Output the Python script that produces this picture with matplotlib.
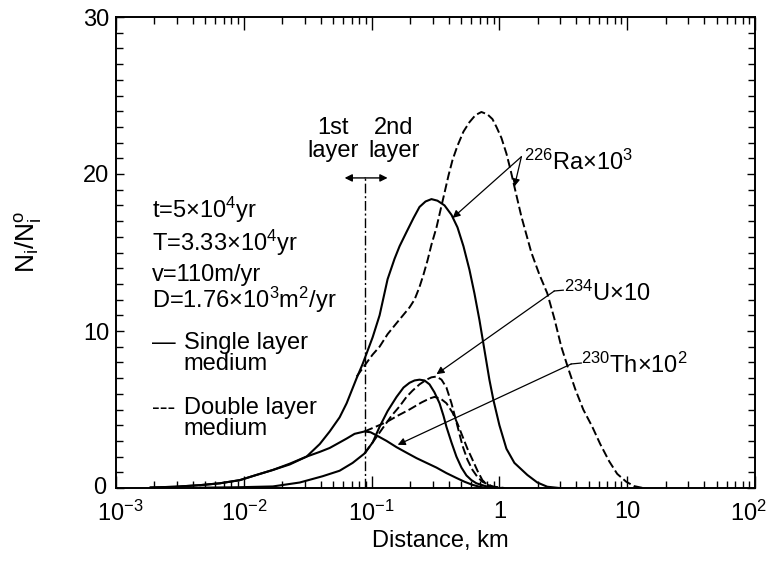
import matplotlib
matplotlib.use("Agg")
import matplotlib.pyplot as plt
from matplotlib.ticker import FixedLocator, LogLocator, MultipleLocator, NullFormatter
from matplotlib.transforms import ScaledTranslation

plt.rcParams['font.family'] = ['Liberation Sans', 'DejaVu Sans']
plt.rcParams['mathtext.fontset'] = 'custom'
plt.rcParams['mathtext.rm'] = 'Liberation Sans'
plt.rcParams['mathtext.it'] = 'Liberation Sans:italic'
plt.rcParams['mathtext.default'] = 'regular'

# Distance (km) and normalised concentration N_i/N_i^o for each nuclide
ra_single_x = [0.00185, 0.00289, 0.00453, 0.0065, 0.0093, 0.0122, 0.0169, 0.0229, 0.031,
               0.0393, 0.047, 0.0562, 0.0638, 0.0764, 0.0851, 0.1019, 0.1155, 0.1334,
               0.1512, 0.1655, 0.1875, 0.2129, 0.237, 0.2642, 0.294, 0.3278, 0.372,
               0.4217, 0.470, 0.5233, 0.583, 0.6376, 0.698, 0.7635, 0.835, 0.898, 1.0,
               1.135, 1.31, 1.655, 1.981, 2.37, 2.943]
ra_single_y = [0.03, 0.08, 0.18, 0.3, 0.5, 0.8, 1.15, 1.5, 2.0, 2.8, 3.6, 4.5, 5.4, 7.0,
               7.9, 9.6, 11.0, 13.3, 14.6, 15.4, 16.3, 17.2, 17.9, 18.25, 18.4, 18.3, 18.0,
               17.4, 16.6, 15.4, 13.9, 12.4, 10.7, 8.8, 6.9, 5.6, 4.0, 2.5, 1.6, 0.83,
               0.35, 0.08, 0.0]

ra_double_x = [0.0764, 0.0881, 0.1019, 0.1155, 0.1334, 0.1567, 0.198, 0.2168, 0.237,
               0.2548, 0.274, 0.294, 0.322, 0.3459, 0.372, 0.3995, 0.430, 0.470, 0.5233,
               0.583, 0.6494, 0.723, 0.806, 0.882, 0.948, 1.037, 1.135, 1.219, 1.31,
               1.485, 1.778, 2.054, 2.37, 2.69, 3.05, 3.46, 3.92, 4.53, 5.33, 6.15, 7.23,
               8.35, 9.82, 11.34, 13.3]
ra_double_y = [7.1, 7.8, 8.5, 9.0, 9.8, 10.5, 11.5, 12.0, 12.8, 13.6, 14.5, 15.5, 16.6,
               17.7, 18.8, 19.9, 20.9, 21.8, 22.7, 23.3, 23.75, 23.95, 23.8, 23.5, 23.0,
               22.3, 21.3, 20.3, 19.2, 17.3, 15.0, 13.6, 12.4, 10.8, 9.0, 7.6, 6.3, 5.0,
               3.9, 2.8, 1.7, 0.9, 0.4, 0.12, 0.0]

u_single_x = [0.00453, 0.0093, 0.0169, 0.0274, 0.0414, 0.0562, 0.0711, 0.0881, 0.1019,
              0.1155, 0.1334, 0.1567, 0.1778, 0.198, 0.2168, 0.237, 0.2594, 0.284, 0.310,
              0.340, 0.3652, 0.385, 0.4217, 0.461, 0.5047, 0.552, 0.6043, 0.661, 0.791,
              1.0]
u_single_y = [0.02, 0.05, 0.1, 0.35, 0.75, 1.1, 1.6, 2.2, 2.9, 3.9, 4.9, 5.8, 6.4, 6.7,
              6.85, 6.9, 6.85, 6.6, 6.1, 5.4, 4.6, 3.9, 2.9, 2.0, 1.3, 0.8, 0.5, 0.3, 0.1,
              0.0]

u_double_x = [0.0881, 0.1019, 0.1219, 0.1432, 0.1655, 0.1875, 0.209, 0.237, 0.269, 0.294,
              0.322, 0.3524, 0.385, 0.4217, 0.461, 0.514, 0.5623, 0.616, 0.6735, 0.736,
              0.882, 1.094]
u_double_y = [2.2, 2.9, 3.8, 4.6, 5.2, 5.8, 6.2, 6.6, 6.9, 7.05, 7.1, 6.9, 6.4, 5.4, 4.2,
              2.7, 1.8, 1.15, 0.7, 0.4, 0.1, 0.0]

th_single_x = [0.00185, 0.00289, 0.00453, 0.0065, 0.0093, 0.0122, 0.0169, 0.0229, 0.031,
               0.0393, 0.047, 0.0562, 0.0638, 0.0736, 0.0881, 0.0982, 0.1094, 0.1309,
               0.1567, 0.1875, 0.225, 0.269, 0.322, 0.385, 0.461, 0.5329, 0.616, 0.698,
               0.791]
th_single_y = [0.03, 0.08, 0.18, 0.3, 0.5, 0.8, 1.15, 1.55, 2.0, 2.3, 2.55, 2.9, 3.15,
               3.45, 3.6, 3.55, 3.35, 3.0, 2.6, 2.25, 1.9, 1.6, 1.3, 0.95, 0.64, 0.4, 0.2,
               0.08, 0.0]

th_double_x = [0.0881, 0.1074, 0.1309, 0.1596, 0.198, 0.2459, 0.284, 0.310, 0.3459,
               0.385, 0.430, 0.470, 0.514, 0.5623, 0.616, 0.6735, 0.736, 0.806, 0.914,
               1.037]
th_double_y = [3.6, 3.9, 4.2, 4.6, 5.0, 5.45, 5.7, 5.8, 5.7, 5.4, 4.8, 4.1, 3.3, 2.5, 1.8,
               1.1, 0.5, 0.2, 0.05, 0.0]

layer_boundary = 0.089  # km

x_ticks = [1e-3, 1e-2, 1e-1, 1, 10, 100]
x_tick_labels = ['$10^{-3}$', '$10^{-2}$', '$10^{-1}$', '1', '10', '$10^{2}$']
y_ticks = [0, 10, 20, 30]
y_tick_labels = ['0', '10', '20', '30']

params = ['t=5×10$^{4}$yr', 'T=3.33×10$^{4}$yr', 'v=110m/yr',
          'D=1.76×10$^{3}$m$^{2}$/yr']

FS = 17
fig = plt.figure(figsize=(7.7, 5.71), dpi=100)
ax = fig.add_axes([116 / 770, 1 - 488 / 571, 639 / 770, 471 / 571])

solid = dict(color='black', lw=1.5, solid_joinstyle='round', solid_capstyle='round')
dashed = dict(color='black', lw=1.4, dashes=(4.5, 1.8))

ax.plot(ra_single_x, ra_single_y, **solid)
ax.plot(u_single_x, u_single_y, **solid)
ax.plot(th_single_x, th_single_y, **solid)
ax.plot(ra_double_x, ra_double_y, **dashed)
ax.plot(u_double_x, u_double_y, **dashed)
ax.plot(th_double_x, th_double_y, **dashed)

# layer boundary and its double arrow
ax.plot([layer_boundary, layer_boundary], [0, 19.75], color='black', lw=1.0,
        dashes=(7, 2, 1.5, 2))
for tip in (0.0615, 0.1334):
    ax.annotate('', xy=(tip, 19.75), xytext=(layer_boundary, 19.75),
                arrowprops=dict(arrowstyle='-|>', color='black', lw=1.0,
                                mutation_scale=11, shrinkA=0, shrinkB=0))
ax.text(0.0495, 21.1, '1st\nlayer', ha='center', va='baseline', fontsize=FS,
        linespacing=1.05)
ax.text(0.150, 21.1, '2nd\nlayer', ha='center', va='baseline', fontsize=FS,
        linespacing=1.05)

# parameter block and line-style key
tx = 0.0019
kx = 0.0034
for label, yb in zip(params, [17.2, 15.1, 13.2, 11.5]):
    ax.text(tx, yb, label, ha='left', va='baseline', fontsize=FS)
ax.text(tx, 8.85, '—', ha='left', va='baseline', fontsize=FS)
ax.text(kx, 8.85, 'Single layer', ha='left', va='baseline', fontsize=FS)
ax.text(kx, 7.5, 'medium', ha='left', va='baseline', fontsize=FS)
ax.text(tx, 4.7, '---', ha='left', va='baseline', fontsize=FS)
ax.text(kx, 4.7, 'Double layer', ha='left', va='baseline', fontsize=FS)
ax.text(kx, 3.35, 'medium', ha='left', va='baseline', fontsize=FS)

# nuclide labels with leaders
arrow = dict(arrowstyle='-|>', color='black', lw=0.9, mutation_scale=11,
             shrinkA=0, shrinkB=0)
ax.text(1.567, 20.25, '$^{226}$Ra×10$^{3}$', ha='left', va='baseline', fontsize=FS)
ax.annotate('', xy=(0.43, 17.2), xytext=(1.486, 21.1), arrowprops=arrow)
ax.annotate('', xy=(1.31, 19.2), xytext=(1.486, 21.1), arrowprops=arrow)

ax.text(3.22, 11.9, '$^{234}$U×10', ha='left', va='baseline', fontsize=FS)
ax.plot([2.69, 3.16], [12.55, 12.6], color='black', lw=0.9)
ax.annotate('', xy=(0.322, 7.25), xytext=(2.69, 12.55), arrowprops=arrow)

ax.text(4.37, 7.3, '$^{230}$Th×10$^{2}$', ha='left', va='baseline', fontsize=FS)
ax.plot([3.65, 4.37], [7.9, 7.96], color='black', lw=0.9)
ax.annotate('', xy=(0.16, 2.75), xytext=(3.65, 7.9), arrowprops=arrow)

ax.set_xscale('log')
ax.set_xlim(1e-3, 1e2)
ax.set_ylim(0, 30)
ax.xaxis.set_major_locator(FixedLocator(x_ticks))
ax.set_xticklabels(x_tick_labels)
ax.xaxis.set_minor_locator(LogLocator(base=10, subs=range(2, 10), numticks=20))
ax.xaxis.set_minor_formatter(NullFormatter())
ax.yaxis.set_major_locator(FixedLocator(y_ticks))
ax.set_yticklabels(y_tick_labels)
ax.yaxis.set_minor_locator(MultipleLocator(1))

ax.tick_params(which='both', direction='in', top=True, right=True, width=1.0,
               labelsize=FS)
ax.tick_params(axis='x', which='major', length=9, pad=9)
ax.tick_params(axis='x', which='minor', length=5)
ax.tick_params(axis='y', which='major', length=6, pad=5)
ax.tick_params(axis='y', which='minor', length=5)
for s in ax.spines.values():
    s.set_linewidth(1.4)

# keep the end labels inside the canvas
xlabels = ax.get_xticklabels()
xlabels[-1].set_transform(xlabels[-1].get_transform()
                          + ScaledTranslation(-7 / 100, 0, fig.dpi_scale_trans))
xlabels[0].set_transform(xlabels[0].get_transform()
                         + ScaledTranslation(4 / 100, 0, fig.dpi_scale_trans))
ylabels = ax.get_yticklabels()
ylabels[0].set_transform(ylabels[0].get_transform()
                         + ScaledTranslation(-3 / 100, 3 / 100, fig.dpi_scale_trans))

ax.set_xlabel('Distance, km', fontsize=FS)
ax.xaxis.set_label_coords(0.507, -0.09)
ax.set_ylabel('$N_i/N_i^{o}$', fontsize=FS + 2)
ax.yaxis.set_label_coords(-0.112, 0.522)

fig.savefig('out.png', dpi=100)
